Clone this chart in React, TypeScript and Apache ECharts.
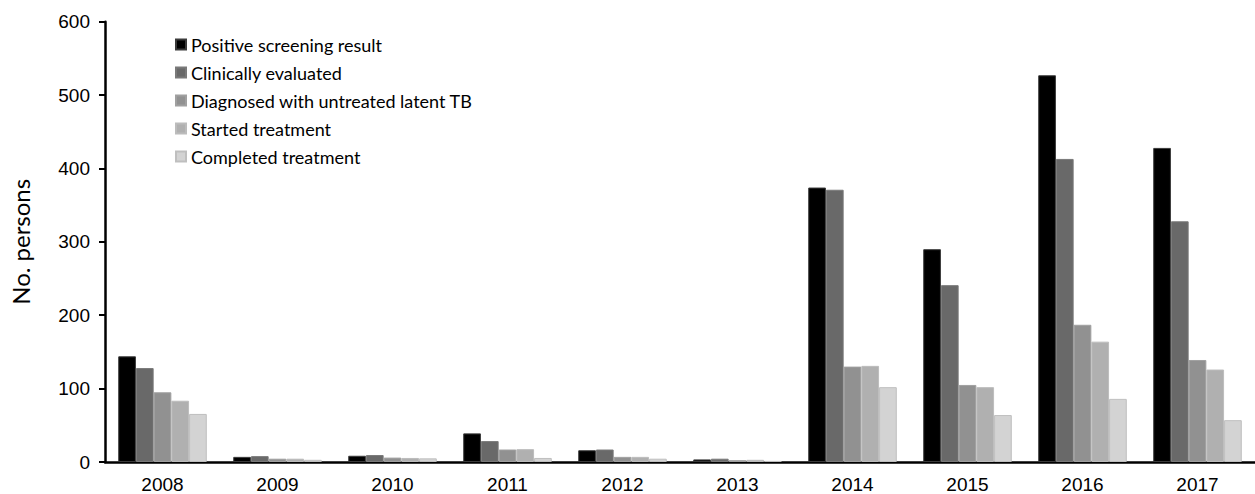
import React, { useEffect, useRef } from "react";
import * as echarts from "echarts";

const years = ["2008", "2009", "2010", "2011", "2012", "2013", "2014", "2015", "2016", "2017"];
const seriesNames = [
  "Positive screening result",
  "Clinically evaluated",
  "Diagnosed with untreated latent TB",
  "Started treatment",
  "Completed treatment",
];
const positive = [144, 7, 8.5, 39, 16, 3.5, 374, 290, 527, 428];
const evaluated = [128, 8, 9.5, 28.5, 17, 4.5, 371, 241, 413, 328];
const diagnosed = [95, 4.5, 6, 17, 7, 2.5, 130, 105, 187, 139];
const started = [83.5, 4.5, 5.5, 17.5, 7, 3, 131, 102, 164, 126];
const completed = [65.5, 3, 5, 5.5, 4.5, 1.5, 102, 64, 86, 57];
const yTicks = [0, 100, 200, 300, 400, 500, 600];

const fills = ["#000000", "#696969", "#919191", "#b0b0b0", "#d3d3d3"];
const borders = ["#3a3a3a", "#7a7a7a", "#a0a0a0", "#bcbcbc", "#bfbfbf"];

export default function App() {
  const ref = useRef<HTMLDivElement>(null);
  useEffect(() => {
    if (!ref.current) return;
    const chart = echarts.init(ref.current, undefined, { renderer: "svg" });
    const data = [positive, evaluated, diagnosed, started, completed];
    chart.setOption({
      animation: false,
      backgroundColor: "#ffffff",
      grid: { left: 103, right: -9, top: 21.7, bottom: 29.7, containLabel: false },
      legend: {
        orient: "vertical",
        left: 175,
        top: 35,
        padding: 0,
        itemWidth: 10,
        itemHeight: 10,
        itemGap: 9,
        icon: "rect",
        textStyle: { fontFamily: "Lato", fontSize: 18, color: "#000", lineHeight: 19 },
        data: seriesNames,
      },
      xAxis: {
        type: "category",
        data: years,
        axisLine: { lineStyle: { color: "#000", width: 2.5 } },
        axisTick: { show: false },
        axisLabel: { fontFamily: "Liberation Sans", fontSize: 19, color: "#000", margin: 13 },
      },
      yAxis: {
        type: "value",
        min: 0,
        max: 600,
        interval: 100,
        name: "No. persons",
        nameLocation: "middle",
        nameGap: 73,
        nameTextStyle: { fontFamily: "Lato", fontSize: 24, color: "#000" },
        axisLine: { show: true, lineStyle: { color: "#000", width: 2.5 } },
        axisTick: { show: true, length: 6, lineStyle: { color: "#000", width: 2 } },
        splitLine: { show: false },
        axisLabel: {
          fontFamily: "Liberation Sans",
          fontSize: 19,
          color: "#000",
          margin: 15,
          formatter: (v: number) => (yTicks.includes(v) ? String(v) : ""),
        },
      },
      series: seriesNames.map((name, i) => ({
        name,
        type: "bar",
        data: data[i],
        barGap: "0%",
        barCategoryGap: "23%",
        itemStyle: { color: fills[i], borderColor: borders[i], borderWidth: 1 },
      })),
    });
    return () => chart.dispose();
  }, []);
  return (
    <div style={{ position: "fixed", left: 0, top: 0, width: 1255, height: 494, background: "#fff" }}>
      <div ref={ref} style={{ width: 1255, height: 494 }} />
    </div>
  );
}
